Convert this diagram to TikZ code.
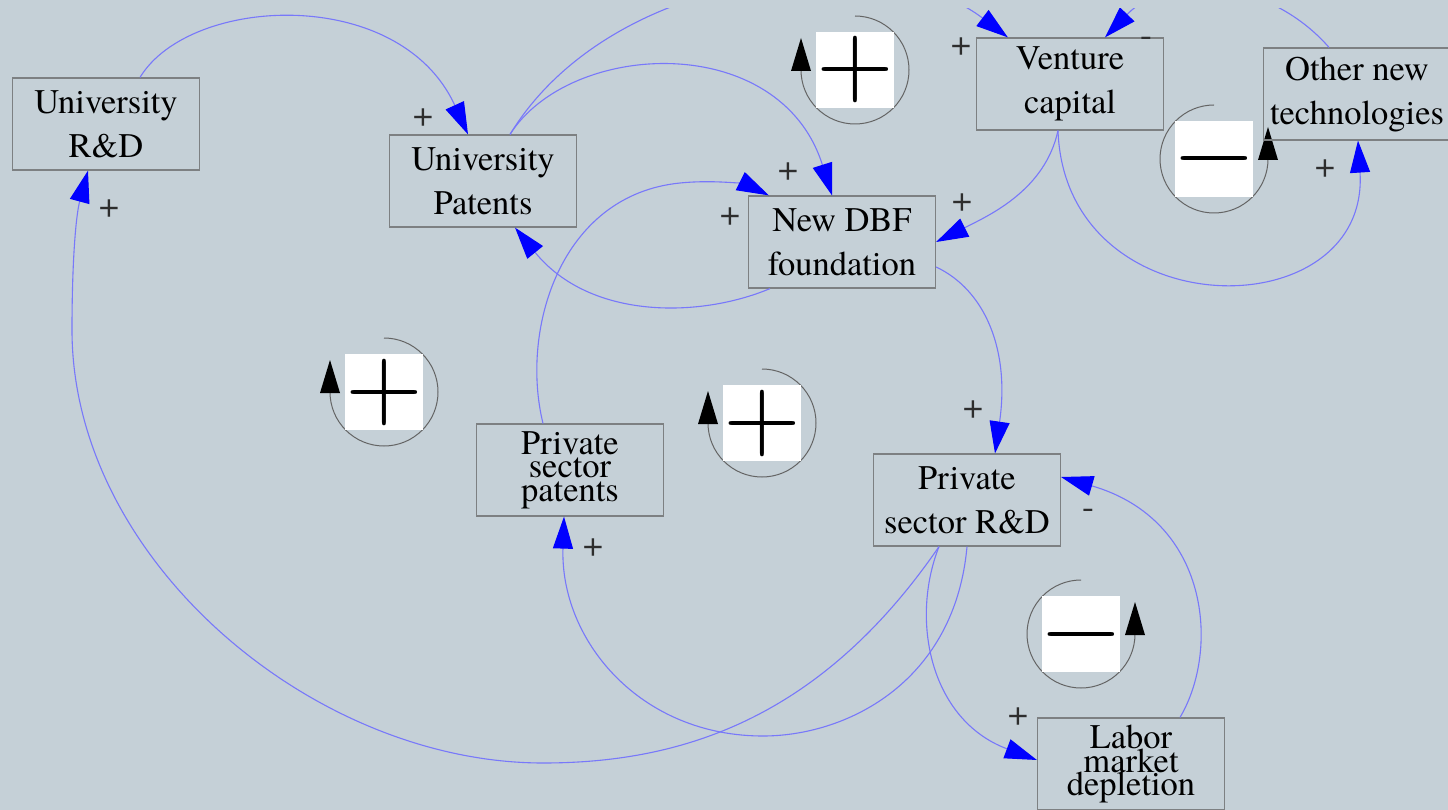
\documentclass[tikz,border=0pt]{standalone}
\usepackage{fontspec}
\setmainfont{texgyretermes-regular.otf}
\newfontfamily\lmsym{lmroman10-regular.otf}
\usetikzlibrary{arrows.meta}
\definecolor{bgc}{RGB}{197,208,215}
\definecolor{linkc}{RGB}{120,120,250}
\definecolor{boxc}{RGB}{125,128,130}
\definecolor{signc}{RGB}{45,45,45}
\definecolor{ringc}{RGB}{100,100,100}
\newcommand\boxfont{\fontsize{34.5}{44}\selectfont}
\newcommand\tightboxfont{\fontsize{34.5}{23.5}\selectfont\lineskiplimit=-100pt\lineskip=0pt\relax}
\newcommand\loopfont{\lmsym\fontsize{100}{100}\selectfont}
\begin{document}
\begin{tikzpicture}[x=1pt,y=-1pt,
  var/.style={draw=boxc, line width=1.2pt, minimum width=187pt, minimum height=92pt,
    inner sep=0pt, align=center, font=\boxfont, text=black},
  tightvar/.style={var, font=\tightboxfont},
  link/.style={draw=linkc, line width=1.1pt, -{Triangle[length=32pt,width=20pt,color=blue]}},
  sign/.style={font=\fontsize{36}{36}\selectfont, text=signc, inner sep=0pt},
  loopring/.style={draw=ringc, line width=1pt},
  loopbox/.style={fill=white, minimum size=76pt, inner sep=0pt, font=\loopfont,
    text height=58.3pt, text depth=8.3pt, text=black},
  looptip/.style={fill=black}
]
\useasboundingbox (0,0) rectangle (1448,810);
\fill[bgc] (0,0) rectangle (1448,810);
\clip (0,9) rectangle (1448,810);

% loop symbols
% L1 positive
\draw[loopring] (855,70) ++(0,-54) arc[start angle=-90, end angle=180, radius=54];
\fill[looptip] (791,71) -- (811,71) -- (801,38) -- cycle;
\node[loopbox] (loopA) at (855,70) {+};
% L2 negative
\draw[loopring] (1214,159) ++(0,-54) arc[start angle=-90, end angle=-360, radius=54];
\fill[looptip] (1258,160) -- (1278,160) -- (1268,127) -- cycle;
\node[loopbox] (loopB) at (1214,159) {\symbol{"2212}};
% L3 positive
\draw[loopring] (384,392) ++(0,-54) arc[start angle=-90, end angle=180, radius=54];
\fill[looptip] (320,393) -- (340,393) -- (330,360) -- cycle;
\node[loopbox] (loopC) at (384,392) {+};
% L4 positive
\draw[loopring] (762,423) ++(0,-54) arc[start angle=-90, end angle=180, radius=54];
\fill[looptip] (698,424) -- (718,424) -- (708,391) -- cycle;
\node[loopbox] (loopD) at (762,423) {+};
% L5 negative
\draw[loopring] (1081,634) ++(0,-54) arc[start angle=-90, end angle=-360, radius=54];
\fill[looptip] (1125,635) -- (1145,635) -- (1135,602) -- cycle;
\node[loopbox] (loopE) at (1081,634) {\symbol{"2212}};

% variables
\node[var] (urd) at (106,124) {University\\R\&D};
\node[var] (upat) at (483,181) {University\\Patents};
\node[var] (dbf) at (842,242) {New DBF\\foundation};
\node[var] (vc) at (1070,84) {Venture\\capital};
\node[var] (ont) at (1357,94) {Other new\\technologies};
\node[tightvar] (psp) at (570,470) {Private\\sector\\patents};
\node[var] (prd) at (967,500) {Private\\sector R\&D};
\node[tightvar] (lab) at (1131,764) {Labor\\market\\depletion};

% links
\draw[link] ([xshift=34pt]urd.north) .. controls (190,-5) and (400,-15) .. ([xshift=-15pt]upat.north);
\draw[link] ([xshift=-28pt]prd.south) .. controls (820,720) and (680,763) .. (543,763)
  .. controls (313,763) and (72,560) .. (72,330)
  .. controls (72,260) and (76,215) .. ([xshift=-18pt]urd.south);
\draw[link] (prd.south) .. controls (955,680) and (850,735) .. (765,736)
  .. controls (640,737) and (560,640) .. ([xshift=-6pt]psp.south);
\draw[link] ([xshift=-28pt]prd.south) .. controls (910,620) and (930,720) .. ([yshift=4pt]lab.west);
\draw[link] ([xshift=49pt]lab.north) .. controls (1220,650) and (1210,520) .. ([yshift=23pt]prd.east);
\draw[link] ([xshift=-27pt]psp.north) .. controls (520,330) and (560,195) .. (680,183)
  .. controls (720,179) and (750,186) .. ([xshift=21pt]dbf.north west);
\draw[link] ([xshift=27pt]upat.north) .. controls (570,40) and (780,30) .. ([xshift=-10pt]dbf.north);
\draw[link] ([xshift=27pt]upat.north) .. controls (610,-30) and (880,-60) .. ([xshift=32pt]vc.north west);
\draw[link] ([xshift=-28pt]ont.north) .. controls (1270,-20) and (1170,-30) .. ([xshift=35pt]vc.north);
\draw[link] ([xshift=-12pt]vc.south) .. controls (1065,330) and (1370,330) .. ([xshift=1pt]ont.south);
\draw[link] ([xshift=-12pt]vc.south) .. controls (1045,190) and (990,215) .. (dbf.east);
\draw[link] ([yshift=-25pt]dbf.east) .. controls (985,290) and (1010,350) .. ([xshift=28pt]prd.north);
\draw[link] ([xshift=-72pt]dbf.south) .. controls (700,318) and (590,320) .. ([xshift=32pt]upat.south);

% polarity signs
\node[sign] (s1) at (423,118) {+};
\node[sign] (s2) at (109,209) {+};
\node[sign] (s3) at (593,548) {+};
\node[sign] (s4) at (1018,717) {+};
\node[sign] (s5) at (1088,514) {-};
\node[sign] (s6) at (730,217) {+};
\node[sign] (s7) at (788,172) {+};
\node[sign] (s8) at (961,47) {+};
\node[sign] (s9) at (1146,42) {-};
\node[sign] (s10) at (1325,169) {+};
\node[sign] (s11) at (962,203) {+};
\node[sign] (s12) at (973,410) {+};
\end{tikzpicture}
\end{document}
